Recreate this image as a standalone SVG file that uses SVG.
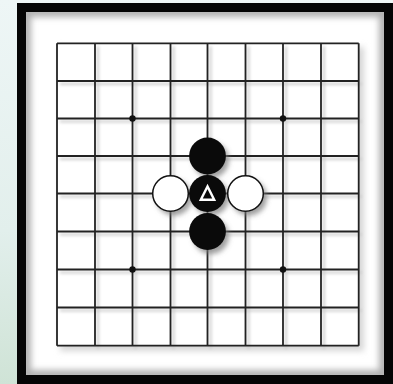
<svg xmlns="http://www.w3.org/2000/svg" width="393" height="384" viewBox="0 0 393 384">
<defs>
<linearGradient id="bg" x1="0" y1="0" x2="0" y2="1">
<stop offset="0" stop-color="#eef6f6"/>
<stop offset="0.6" stop-color="#e2efec"/>
<stop offset="1" stop-color="#cfe3d6"/>
</linearGradient>
<filter id="soft" x="-20%" y="-20%" width="140%" height="140%">
<feGaussianBlur stdDeviation="3"/>
</filter>
<filter id="sh" x="-50%" y="-50%" width="200%" height="200%">
<feGaussianBlur stdDeviation="2.5"/>
</filter>
<filter id="lineblur" x="-5%" y="-5%" width="110%" height="110%">
<feGaussianBlur stdDeviation="1.5"/>
</filter>
<clipPath id="inner"><rect x="26" y="12" width="358" height="363"/></clipPath>
</defs>
<style>
.grid line{stroke:#222;stroke-width:1.8}
.gshadow line{stroke:#c8c8c8;stroke-width:2}
.star{fill:#111}
.black{fill:#0a0a0a}
.white{fill:#fff;stroke:#111;stroke-width:1.5}
.shadow{fill:#777;opacity:0.7}
</style>
<rect x="0" y="0" width="393" height="384" fill="url(#bg)"/>
<rect x="17" y="3" width="376" height="381" fill="#fff"/>
<g clip-path="url(#inner)">
<rect x="26" y="12" width="358" height="363" fill="none" stroke="#b0b0b0" stroke-width="10" filter="url(#soft)"/>
</g>
<rect x="21.5" y="7.5" width="367" height="372" fill="none" stroke="#050505" stroke-width="9"/>
<rect x="60" y="47" width="304" height="304" fill="#d6d6d6" filter="url(#soft)"/>
<rect x="57" y="43.3" width="301.7" height="302.4" fill="#fff"/>
<g class="gshadow" filter="url(#lineblur)" transform="translate(3,3)">
<line x1="95" y1="43.3" x2="95" y2="345.7"/><line x1="132.5" y1="43.3" x2="132.5" y2="345.7"/><line x1="170.5" y1="43.3" x2="170.5" y2="345.7"/><line x1="207.5" y1="43.3" x2="207.5" y2="345.7"/><line x1="245.5" y1="43.3" x2="245.5" y2="345.7"/><line x1="283" y1="43.3" x2="283" y2="345.7"/><line x1="321" y1="43.3" x2="321" y2="345.7"/>
<line x1="57" y1="81" x2="358.7" y2="81"/><line x1="57" y1="118.5" x2="358.7" y2="118.5"/><line x1="57" y1="156" x2="358.7" y2="156"/><line x1="57" y1="193.5" x2="358.7" y2="193.5"/><line x1="57" y1="231.5" x2="358.7" y2="231.5"/><line x1="57" y1="269.5" x2="358.7" y2="269.5"/><line x1="57" y1="307.5" x2="358.7" y2="307.5"/>
</g>
<g class="grid">
<line x1="57" y1="43.3" x2="57" y2="345.7"/><line x1="95" y1="43.3" x2="95" y2="345.7"/><line x1="132.5" y1="43.3" x2="132.5" y2="345.7"/><line x1="170.5" y1="43.3" x2="170.5" y2="345.7"/><line x1="207.5" y1="43.3" x2="207.5" y2="345.7"/><line x1="245.5" y1="43.3" x2="245.5" y2="345.7"/><line x1="283" y1="43.3" x2="283" y2="345.7"/><line x1="321" y1="43.3" x2="321" y2="345.7"/><line x1="358.7" y1="43.3" x2="358.7" y2="345.7"/>
<line x1="57" y1="43.3" x2="358.7" y2="43.3"/><line x1="57" y1="81" x2="358.7" y2="81"/><line x1="57" y1="118.5" x2="358.7" y2="118.5"/><line x1="57" y1="156" x2="358.7" y2="156"/><line x1="57" y1="193.5" x2="358.7" y2="193.5"/><line x1="57" y1="231.5" x2="358.7" y2="231.5"/><line x1="57" y1="269.5" x2="358.7" y2="269.5"/><line x1="57" y1="307.5" x2="358.7" y2="307.5"/><line x1="57" y1="345.7" x2="358.7" y2="345.7"/>
</g>
<g id="stars">
<circle class="star" cx="132.5" cy="118.5" r="3.2"/>
<circle class="star" cx="283" cy="118.5" r="3.2"/>
<circle class="star" cx="132.5" cy="269.5" r="3.2"/>
<circle class="star" cx="283" cy="269.5" r="3.2"/>
</g>
<g id="shadows" filter="url(#sh)">
<circle class="shadow" cx="211" cy="160" r="18"/>
<circle class="shadow" cx="211" cy="236" r="18"/>
<circle class="shadow" cx="174" cy="197.5" r="18"/>
<circle class="shadow" cx="249" cy="197.5" r="18"/>
<circle class="shadow" cx="211" cy="197.5" r="18"/>
</g>
<g id="connectors"></g>
<g id="stone-b-top"><circle class="black" cx="207.5" cy="156" r="18.4"/></g>
<g id="stone-b-bottom"><circle class="black" cx="207.5" cy="231.5" r="18.4"/></g>
<g id="stone-w-left"><circle class="white" cx="170.5" cy="193.5" r="17.8"/></g>
<g id="stone-w-right"><circle class="white" cx="245.5" cy="193.5" r="17.8"/></g>
<g id="stone-b-center"><circle class="black" cx="207.5" cy="193.5" r="18.4"/>
<polygon points="207.5,186.5 200.8,199.8 214.2,199.8" fill="none" stroke="#fff" stroke-width="2.4" stroke-linejoin="miter"/></g>
</svg>
